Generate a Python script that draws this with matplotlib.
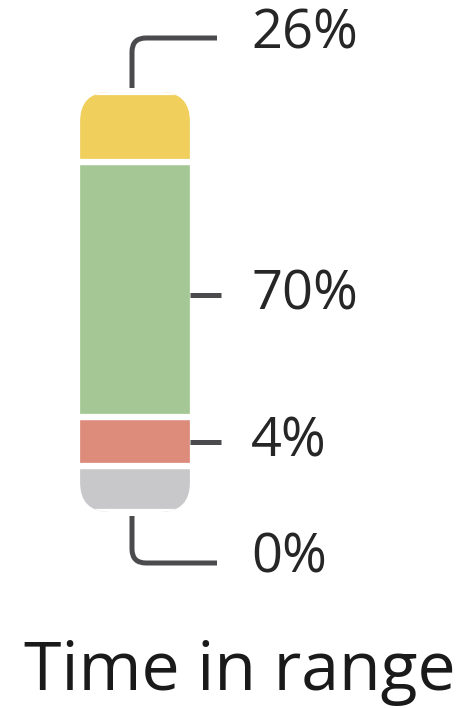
import matplotlib.pyplot as plt
from matplotlib.patches import FancyBboxPatch, PathPatch
from matplotlib.path import Path

# segments from bottom to top
segments = ['Very low', 'Low', 'In range', 'High']
percents = [0, 4, 70, 26]
bar_heights = [46, 49, 255, 70]   # drawn heights
colors = ['#c8c8ca', '#dd8b7b', '#a4c795', '#f1cf5d']
title = 'Time in range'

plt.rcParams['font.family'] = ['Open Sans', 'DejaVu Sans']

fig = plt.figure(figsize=(4.72, 7.08), dpi=100)
ax = fig.add_axes([0, 0, 1, 1])
ax.set_xlim(0, 472)
ax.set_ylim(0, 708)
ax.axis('off')

bar_x, bar_w, base = 135, 116, 196
line_c = '#4b4b4d'
txt_c = '#262626'

bottoms = []
b = base
for h in bar_heights:
	bottoms.append(b)
	b += h
top = b

outline = FancyBboxPatch((bar_x - 55, base), 110, top - base,
	boxstyle='round,pad=0,rounding_size=30', fc='none', ec='none')
ax.add_patch(outline)
bars = ax.bar([bar_x] * len(bar_heights), bar_heights, width=bar_w, bottom=bottoms,
	color=colors, edgecolor='white', linewidth=4.5)
for r in bars:
	r.set_clip_path(outline)

def bracket(y0, y1, r=14):
	sgn = 1 if y1 > y0 else -1
	verts = [(132, y0), (132, y1 - sgn * r), (132, y1), (132 + r, y1), (217, y1)]
	codes = [Path.MOVETO, Path.LINETO, Path.CURVE3, Path.CURVE3, Path.LINETO]
	ax.add_patch(PathPatch(Path(verts, codes), fc='none', ec=line_c, lw=3.6, capstyle='butt'))

fs = 39
# top bracket (High) and bottom bracket (Very low)
bracket(top + 4, 670)
ax.text(251, 674, '%d%%' % percents[3], fontsize=fs, color=txt_c, va='center', ha='left')
bracket(base - 4, 145)
ax.text(251, 150, '%d%%' % percents[0], fontsize=fs, color=txt_c, va='center', ha='left')

# middle ticks
for i in (1, 2):
	ym = bottoms[i] + bar_heights[i] * 0.48
	ax.plot([190, 221], [ym, ym], color=line_c, lw=3.6, solid_capstyle='butt')
	ax.text(251, ym, '%d%%' % percents[i], fontsize=fs, color=txt_c, va='center', ha='left')

ax.text(240, 18, title, fontsize=49, color='#1a1a1a', ha='center', va='baseline')

fig.savefig('out.png', dpi=100)
